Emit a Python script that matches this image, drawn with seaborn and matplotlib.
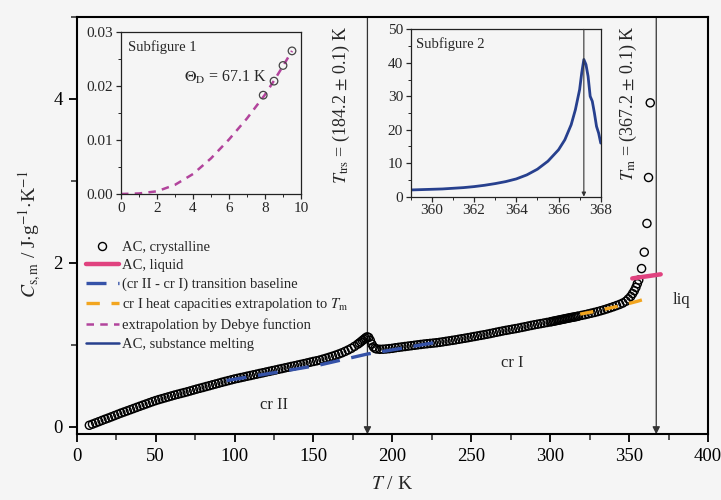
import numpy as np
import pandas as pd
import matplotlib
matplotlib.use("Agg")
import matplotlib.pyplot as plt
from matplotlib.lines import Line2D
from matplotlib.ticker import MultipleLocator
import seaborn as sns

# ---------------- data ----------------
T_cr = [8, 10, 12, 14, 16, 18, 20, 22, 24, 26, 28, 30, 32, 34, 36, 38, 40, 42, 44, 46,
        48, 50, 52, 54, 56, 58, 60, 62, 64, 66, 68, 70, 72, 74, 76, 78, 80, 82, 84, 86,
        88, 90, 92, 94, 96, 98, 100, 102, 104, 106, 108, 110, 112, 114, 116, 118, 120,
        122, 124, 126, 128, 130, 132, 134, 136, 138, 140, 142, 144, 146, 148, 150, 152,
        154, 156, 158, 160, 162, 164, 166, 168, 170, 172, 174, 176, 178, 179, 180, 181,
        182, 183, 184, 185, 186, 187, 188, 189, 190, 192, 194, 196, 198, 200, 202, 204,
        206, 208, 210, 212, 214, 216, 218, 220, 222, 224, 226, 228, 230, 232, 234, 236,
        238, 240, 242, 244, 246, 248, 250, 252, 254, 256, 258, 260, 262, 264, 266, 268,
        270, 272, 274, 276, 278, 280, 282, 284, 286, 288, 290, 292, 294, 296, 298, 300,
        301, 302, 303, 304, 305, 306, 307, 308, 309, 310, 311, 312, 313, 314, 315, 316,
        317, 318, 320, 322, 324, 326, 328, 330, 332, 334, 336, 338, 340, 342, 344, 346,
        348, 349.5, 351, 352.2, 353.3, 354.3, 355.2, 356.1, 357.9, 359.6, 361.3, 362.3, 363.4]
C_cr = [0.020, 0.034, 0.049, 0.064, 0.079, 0.094, 0.108, 0.123, 0.138, 0.153, 0.168, 0.182,
        0.196, 0.210, 0.224, 0.238, 0.252, 0.266, 0.280, 0.294, 0.308, 0.321, 0.333, 0.344,
        0.355, 0.366, 0.377, 0.388, 0.398, 0.408, 0.418, 0.428, 0.439, 0.450, 0.461, 0.471,
        0.481, 0.492, 0.502, 0.513, 0.523, 0.533, 0.544, 0.554, 0.564, 0.574, 0.584, 0.592,
        0.601, 0.609, 0.618, 0.626, 0.635, 0.643, 0.652, 0.660, 0.669, 0.677, 0.686, 0.694,
        0.703, 0.711, 0.720, 0.728, 0.737, 0.745, 0.754, 0.762, 0.771, 0.780, 0.789, 0.798,
        0.806, 0.815, 0.826, 0.837, 0.849, 0.861, 0.874, 0.888, 0.903, 0.920, 0.938, 0.958,
        0.982, 1.008, 1.022, 1.037, 1.053, 1.069, 1.085, 1.098, 1.090, 1.055, 1.010, 0.975,
        0.958, 0.950, 0.946, 0.947, 0.950, 0.954, 0.958, 0.965, 0.970, 0.975, 0.980, 0.985,
        0.990, 0.995, 1.000, 1.005, 1.010, 1.014, 1.018, 1.022, 1.026, 1.031, 1.037, 1.043,
        1.049, 1.055, 1.061, 1.068, 1.075, 1.081, 1.088, 1.095, 1.102, 1.109, 1.116, 1.123,
        1.130, 1.138, 1.146, 1.154, 1.162, 1.170, 1.177, 1.184, 1.191, 1.198, 1.205, 1.213,
        1.221, 1.229, 1.237, 1.245, 1.252, 1.259, 1.266, 1.273, 1.280, 1.284, 1.288, 1.292,
        1.296, 1.300, 1.304, 1.308, 1.312, 1.316, 1.320, 1.324, 1.328, 1.332, 1.336, 1.339,
        1.343, 1.347, 1.351, 1.360, 1.368, 1.377, 1.386, 1.395, 1.405, 1.416, 1.427, 1.439,
        1.452, 1.465, 1.479, 1.493, 1.510, 1.532, 1.560, 1.590, 1.625, 1.660, 1.700, 1.745,
        1.790, 1.930, 2.130, 2.480, 3.040, 3.950]

T_liq = [352, 370]
C_liq = [1.81, 1.86]

T_base = [95, 125, 154, 184, 205, 232]
C_base = [0.565, 0.660, 0.755, 0.888, 0.955, 1.045]

T_extr = [319, 330, 345, 355, 362]
C_extr = [1.375, 1.415, 1.480, 1.530, 1.570]

T_trs, T_m = 184.2, 367.2

# Subfigure 1 (Debye)
T_deb = [0, 1, 2, 3, 4, 5, 6, 7, 8, 8.5, 9, 9.5]
C_deb = [0.0, 0.0001, 0.0005, 0.0017, 0.0037, 0.0066, 0.0101, 0.0140, 0.0184, 0.0210,
         0.0237, 0.0265]
T_low = [7.9, 8.5, 9.0, 9.5]
C_low = [0.0183, 0.0209, 0.0238, 0.0265]

# Subfigure 2 (melting)
T_melt = [359.0, 359.5, 360.0, 360.5, 361.0, 361.5, 362.0, 362.5, 363.0, 363.5, 364.0,
          364.5, 365.0, 365.5, 366.0, 366.3, 366.6, 366.8, 367.0, 367.1, 367.2, 367.3,
          367.4, 367.5, 367.6, 367.7, 367.8, 367.9, 368.0]
C_melt = [2.0, 2.1, 2.2, 2.3, 2.5, 2.7, 3.0, 3.4, 3.9, 4.5, 5.3, 6.5, 8.2, 10.6, 14.0,
          17.0, 21.5, 26.0, 32.0, 37.0, 41.0, 39.5, 36.0, 30.0, 28.5, 25.0, 21.0, 19.0,
          16.0]

# ---------------- style ----------------
sns.set_theme(style="ticks")
plt.rcParams["font.family"] = ["Liberation Serif", "DejaVu Serif"]
plt.rcParams["mathtext.fontset"] = "stix"
plt.rcParams["axes.facecolor"] = "#f5f5f5"
plt.rcParams["figure.facecolor"] = "#f5f5f5"

c_liq = "#e0427f"
c_base = "#3552a8"
c_extr = "#f2a51f"
c_deb = "#b2449c"
c_melt = "#27408e"
c_arrow = "#333333"

fig = plt.figure(figsize=(7.21, 5.0), dpi=100)
ax = fig.add_axes([0.1064, 0.1314, 0.8756, 0.8352])

df_cr = pd.DataFrame({"T": T_cr, "C": C_cr})
sns.scatterplot(data=df_cr, x="T", y="C", ax=ax, marker="o", s=34, facecolors="none",
                edgecolor="black", linewidth=1.0, zorder=3)

sns.lineplot(x=T_base, y=C_base, ax=ax, color=c_base, lw=2.4, sort=False, zorder=4)
ax.lines[-1].set_dashes([6, 3.5])
sns.lineplot(x=T_extr, y=C_extr, ax=ax, color=c_extr, lw=2.4, sort=False, zorder=4)
ax.lines[-1].set_dashes([4, 3.5])
sns.lineplot(x=T_liq, y=C_liq, ax=ax, color=c_liq, lw=3.2, sort=False, zorder=4)

for tx in (T_trs, T_m):
    ax.annotate("", xy=(tx, -0.09), xytext=(tx, 5.0),
                arrowprops=dict(arrowstyle="-|>", color=c_arrow, lw=0.9,
                                mutation_scale=11, shrinkA=0, shrinkB=0), zorder=1)

ax.set_xlim(0, 400)
ax.set_ylim(-0.09, 5.0)
ax.set_xticks([0, 50, 100, 150, 200, 250, 300, 350, 400])
ax.set_yticks([0, 2, 4])
ax.xaxis.set_minor_locator(MultipleLocator(25))
ax.yaxis.set_minor_locator(MultipleLocator(1))
ax.tick_params(which="major", direction="out", length=6, width=1.3, labelsize=13.5,
               colors="black", pad=4)
ax.tick_params(which="minor", direction="out", length=4, width=1.1)
for sp in ax.spines.values():
    sp.set_visible(True)
    sp.set_linewidth(1.5)
    sp.set_color("black")

ax.set_xlabel(r"$T$ / K", fontsize=14)
ax.set_ylabel(r"$C_{\mathrm{s,m}}$ / J$\cdot$g$^{-1}$$\cdot$K$^{-1}$", fontsize=14)
ax.yaxis.set_label_coords(-0.054, 0.48)
ax.xaxis.labelpad = 8

ax.text(167.5, 3.92, r"$T_{\mathrm{trs}}$ = (184.2 $\pm$ 0.1) K", rotation=90,
        ha="center", va="center", fontsize=13)
ax.text(349.5, 3.94, r"$T_{\mathrm{m}}$ = (367.2 $\pm$ 0.1) K", rotation=90,
        ha="center", va="center", fontsize=13)
ax.text(125, 0.265, "cr II", ha="center", va="center", fontsize=12)
ax.text(276, 0.78, "cr I", ha="center", va="center", fontsize=12)
ax.text(383, 1.55, "liq", ha="center", va="center", fontsize=12)

handles = [
    Line2D([], [], ls="none", marker="o", mfc="none", mec="black", ms=5.8, mew=1.0),
    Line2D([], [], color=c_liq, lw=3.2),
    Line2D([], [], color=c_base, lw=2.4, dashes=[6, 3.5]),
    Line2D([], [], color=c_extr, lw=2.4, dashes=[4, 3.5]),
    Line2D([], [], color=c_deb, lw=1.8, dashes=[3, 2.5]),
    Line2D([], [], color=c_melt, lw=1.8),
]
labels = ["AC, crystalline", "AC, liquid", "(cr II - cr I) transition baseline",
          r"cr I heat capacities extrapolation to $T_{\mathrm{m}}$",
          "extrapolation by Debye function", "AC, substance melting"]
ax.legend(handles, labels, loc="upper left", bbox_to_anchor=(0.005, 0.478),
          frameon=False, fontsize=10.5, handlelength=2.3, handletextpad=0.2,
          labelspacing=0.36, borderaxespad=0.0)

# ---------------- inset 1 ----------------
ax1 = fig.add_axes([0.1678, 0.612, 0.2497, 0.324])
sns.lineplot(x=T_deb, y=C_deb, ax=ax1, color=c_deb, lw=1.8, sort=False)
ax1.lines[-1].set_dashes([3, 2.5])
sns.scatterplot(x=T_low, y=C_low, ax=ax1, marker="o", s=30, facecolors="none",
                edgecolor="#444444", linewidth=0.9, zorder=3)
ax1.set_xlim(0, 10)
ax1.set_ylim(0, 0.03)
ax1.set_xticks([0, 2, 4, 6, 8, 10])
ax1.set_yticks([0.0, 0.01, 0.02, 0.03])
ax1.set_yticklabels(["0.00", "0.01", "0.02", "0.03"])
ax1.xaxis.set_minor_locator(MultipleLocator(1))
ax1.yaxis.set_minor_locator(MultipleLocator(0.005))
ax1.tick_params(which="major", direction="out", length=3.5, width=0.9, labelsize=11, pad=2)
ax1.tick_params(which="minor", direction="out", length=2, width=0.7)
for sp in ax1.spines.values():
    sp.set_visible(True)
    sp.set_linewidth(0.9)
    sp.set_color("#222222")
ax1.set_xlabel("")
ax1.set_ylabel("")
ax1.text(0.04, 0.95, "Subfigure 1", transform=ax1.transAxes, ha="left", va="top",
         fontsize=10.5)
ax1.text(3.5, 0.0215, r"$\Theta_{\mathrm{D}}$ = 67.1 K", ha="left", va="center",
         fontsize=11.5)

# ---------------- inset 2 ----------------
ax2 = fig.add_axes([0.5696, 0.6067, 0.2636, 0.3346])
sns.lineplot(x=T_melt, y=C_melt, ax=ax2, color=c_melt, lw=2.0, sort=False)
ax2.annotate("", xy=(T_m, 0), xytext=(T_m, 50),
             arrowprops=dict(arrowstyle="-|>", color=c_arrow, lw=0.8,
                             mutation_scale=6, shrinkA=0, shrinkB=0))
ax2.set_xlim(359, 368)
ax2.set_ylim(0, 50)
ax2.set_xticks([360, 362, 364, 366, 368])
ax2.set_yticks([0, 10, 20, 30, 40, 50])
ax2.xaxis.set_minor_locator(MultipleLocator(1))
ax2.yaxis.set_minor_locator(MultipleLocator(5))
ax2.tick_params(which="major", direction="out", length=3.5, width=0.9, labelsize=11, pad=2)
ax2.tick_params(which="minor", direction="out", length=2, width=0.7)
for sp in ax2.spines.values():
    sp.set_visible(True)
    sp.set_linewidth(0.9)
    sp.set_color("#222222")
ax2.set_xlabel("")
ax2.set_ylabel("")
ax2.text(0.03, 0.95, "Subfigure 2", transform=ax2.transAxes, ha="left", va="top",
         fontsize=10.5)

fig.savefig("out.png", dpi=100, facecolor=fig.get_facecolor())
